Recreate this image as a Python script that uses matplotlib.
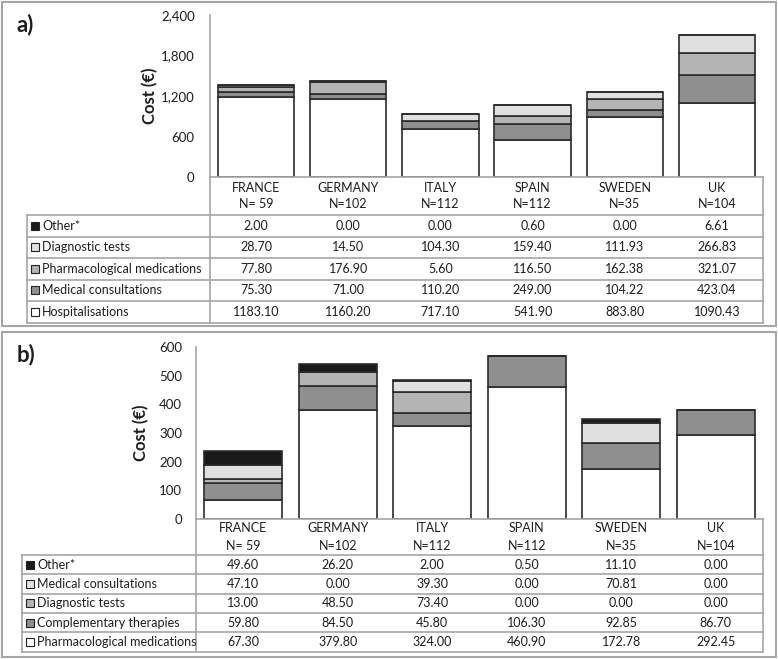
import matplotlib
matplotlib.use("Agg")
import matplotlib.pyplot as plt
from matplotlib.patches import Rectangle

plt.rcParams['font.family'] = ['Lato', 'DejaVu Sans']

countries = ["FRANCE", "GERMANY", "ITALY", "SPAIN", "SWEDEN", "UK"]
n_labels = ["N= 59", "N=102", "N=112", "N=112", "N=35", "N=104"]

# Panel a (stack order bottom -> top)
a_names = ["Hospitalisations", "Medical consultations", "Pharmacological medications",
           "Diagnostic tests", "Other*"]
a_hosp = [1183.10, 1160.20, 717.10, 541.90, 883.80, 1090.43]
a_medcons = [75.30, 71.00, 110.20, 249.00, 104.22, 423.04]
a_pharm = [77.80, 176.90, 5.60, 116.50, 162.38, 321.07]
a_diag = [28.70, 14.50, 104.30, 159.40, 111.93, 266.83]
a_other = [2.00, 0.00, 0.00, 0.60, 0.00, 6.61]
a_yticks = [0, 600, 1200, 1800, 2400]

# Panel b
b_names = ["Pharmacological medications", "Complementary therapies", "Diagnostic tests",
           "Medical consultations", "Other*"]
b_pharm = [67.30, 379.80, 324.00, 460.90, 172.78, 292.45]
b_compl = [59.80, 84.50, 45.80, 106.30, 92.85, 86.70]
b_diag = [13.00, 48.50, 73.40, 0.00, 0.00, 0.00]
b_medcons = [47.10, 0.00, 39.30, 0.00, 70.81, 0.00]
b_other = [49.60, 26.20, 2.00, 0.50, 11.10, 0.00]
b_yticks = [0, 100, 200, 300, 400, 500, 600]

colors = ["#ffffff", "#8f8f8f", "#b4b4b4", "#e0e0e0", "#1a1a1a"]

W, H = 778, 659
fig = plt.figure(figsize=(W / 100, H / 100), dpi=100)
fig.patch.set_facecolor("white")

# overlay axes in pixel coordinates
ov = fig.add_axes([0, 0, 1, 1])
ov.set_xlim(0, W)
ov.set_ylim(H, 0)
ov.axis("off")
ov.set_zorder(5)
ov.patch.set_alpha(0)

FS = 9.0
GRID = "#a6a6a6"
TXT = "#1e1e1e"


def fig_rect(x0, y0, x1, y1):
    return [x0 / W, 1 - y1 / H, (x1 - x0) / W, (y1 - y0) / H]


def panel(series, names, yticks, ymax, label, box, ax_px, tbl, tick_pad, lab_pad):
    bx0, by0, bx1, by1 = box
    ov.add_patch(Rectangle((bx0, by0), bx1 - bx0, by1 - by0, fill=False,
                           edgecolor=GRID, lw=1.5))
    x0, y0, x1, y1 = ax_px
    ax = fig.add_axes(fig_rect(x0, y0, x1, y1))
    ax.set_xlim(-0.5, len(countries) - 0.5)
    ax.set_ylim(0, ymax)
    bottom = [0.0] * len(countries)
    for vals, c in zip(series, colors):
        ax.bar(range(len(countries)), vals, bottom=bottom, width=0.83,
               color=c, edgecolor="#2b2b2b", linewidth=1.2, zorder=3)
        bottom = [b + v for b, v in zip(bottom, vals)]
    for s in ["top", "right", "bottom"]:
        ax.spines[s].set_visible(False)
    ax.spines["left"].set_color(GRID)
    ax.spines["left"].set_linewidth(1.2)
    ax.set_xticks([])
    ax.set_yticks(yticks)
    ax.set_yticklabels([f"{t:,}" for t in yticks], fontsize=FS + 0.5, color=TXT)
    ax.tick_params(axis="y", length=0, pad=tick_pad)
    ax.set_ylabel("Cost (€)", fontsize=12, fontweight="bold", labelpad=lab_pad,
                  color=TXT)
    ax.patch.set_alpha(0)
    ov.text(bx0 + 15, by0 + 23, label, fontsize=16, fontweight="bold",
            ha="left", va="center", color=TXT)

    # table
    tl, tc, tr, ttop, thead, row_h = tbl
    ncol = len(countries)
    cw = (tr - tc) / ncol
    nrow = len(names)
    tbot = thead + nrow * row_h
    ov.plot([tc, tr], [ttop, ttop], color=GRID, lw=1.2)
    ov.plot([tr, tr], [ttop, tbot], color=GRID, lw=1.2)
    ov.plot([tc, tc], [ttop, tbot], color=GRID, lw=1.2)
    ov.plot([tl, tl], [thead, tbot], color=GRID, lw=1.2)
    for r in range(nrow + 1):
        y = thead + r * row_h
        ov.plot([tl, tr], [y, y], color=GRID, lw=1.2)
    for i, (cn, nl) in enumerate(zip(countries, n_labels)):
        cx = tc + (i + 0.5) * cw
        ov.text(cx, (ttop + thead) / 2, cn + "\n" + nl, ha="center", va="center",
                fontsize=FS, linespacing=1.5, color=TXT)
    for r in range(nrow):
        k = nrow - 1 - r
        yc = thead + (r + 0.5) * row_h
        ov.add_patch(Rectangle((tl + 4, yc - 4), 8, 8, facecolor=colors[k],
                               edgecolor="#222222", lw=0.8))
        ov.text(tl + 15, yc, names[k], ha="left", va="center", fontsize=FS, color=TXT)
        for i, v in enumerate(series[k]):
            cx = tc + (i + 0.5) * cw
            ov.text(cx, yc, f"{v:.2f}", ha="center", va="center", fontsize=FS,
                    color=TXT)


panel([a_hosp, a_medcons, a_pharm, a_diag, a_other], a_names, a_yticks, 2400, "a)",
      (2, 2, 776, 326), (210, 15, 763, 177), (27, 210, 763, 177, 215, 21.5), 11, 2)
panel([b_pharm, b_compl, b_diag, b_medcons, b_other], b_names, b_yticks, 600, "b)",
      (2, 332, 776, 657), (196, 347, 763, 519), (22, 196, 763, 519, 555, 19.3), 10, 7)

fig.savefig("out.png", dpi=100)
